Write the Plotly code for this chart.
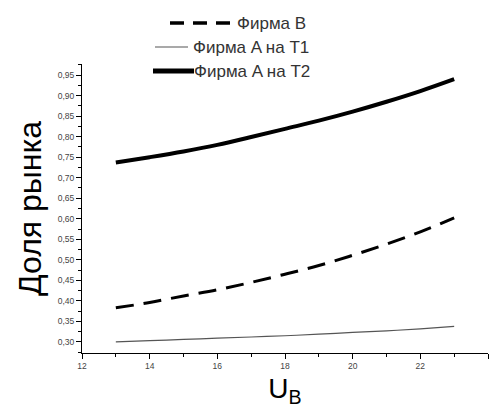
import plotly.graph_objects as go

u_b = [13, 14, 15, 16, 17, 18, 19, 20, 21, 22, 23]
firm_b = [0.383, 0.396, 0.412, 0.427, 0.445, 0.465, 0.486, 0.511, 0.538, 0.568, 0.602]
firm_a_t1 = [0.300, 0.303, 0.306, 0.309, 0.312, 0.315, 0.319, 0.323, 0.327, 0.332, 0.338]
firm_a_t2 = [0.737, 0.750, 0.764, 0.780, 0.799, 0.819, 0.839, 0.861, 0.885, 0.911, 0.940]

names = ["Фирма B", "Фирма A на T1", "Фирма A на T2"]
x_ticks = [12, 14, 16, 18, 20, 22, 24]
y_ticks = [0.30, 0.35, 0.40, 0.45, 0.50, 0.55, 0.60, 0.65, 0.70, 0.75, 0.80, 0.85, 0.90, 0.95]

W, H = 490, 411
L, R, T, B = 82, 2, 64, 58
pw, ph = W - L - R, H - T - B

def px(x):
    return (x - L) / pw

def py(y):
    return (H - B - y) / ph

fig = go.Figure()
fig.add_trace(go.Scatter(x=u_b, y=firm_b, mode="lines", name=names[0],
                         line=dict(color="black", width=3, dash="18px,10px"), line_shape="spline"))
fig.add_trace(go.Scatter(x=u_b, y=firm_a_t1, mode="lines", name=names[1],
                         line=dict(color="#555555", width=1.2), line_shape="spline"))
fig.add_trace(go.Scatter(x=u_b, y=firm_a_t2, mode="lines", name=names[2],
                         line=dict(color="black", width=4), line_shape="spline"))

# manual legend (Origin-style)
legend_rows = [
    dict(y=23, x0=170, x1=230, tx=235, style=dict(color="black", width=3.5, dash="14px,9px")),
    dict(y=47, x0=155, x1=188, tx=191, style=dict(color="#555555", width=1.2)),
    dict(y=71, x0=153, x1=194, tx=192, style=dict(color="black", width=5)),
]
shapes = []
annotations = []
for name, row in zip(names, legend_rows):
    shapes.append(dict(type="line", xref="paper", yref="paper",
                       x0=px(row["x0"]), x1=px(row["x1"]), y0=py(row["y"]), y1=py(row["y"]),
                       line=row["style"]))
    annotations.append(dict(xref="paper", yref="paper", x=px(row["tx"]), y=py(row["y"]),
                            text=name, showarrow=False, xanchor="left", yanchor="middle",
                            font=dict(family="Liberation Sans, Arial", size=17, color="#333333")))

fig.update_layout(
    width=W, height=H,
    margin=dict(l=L, r=R, t=T, b=B),
    paper_bgcolor="white", plot_bgcolor="white",
    showlegend=False,
    separators=", ",
    shapes=shapes,
    annotations=annotations,
    font=dict(family="Liberation Sans, Arial", color="black"),
)
fig.update_xaxes(
    range=[12, 24], tickvals=x_ticks, ticktext=[str(v) for v in x_ticks],
    showline=True, linecolor="black", linewidth=1, showgrid=False, zeroline=False,
    ticks="outside", ticklen=5, tickcolor="black", tickwidth=1,
    minor=dict(dtick=1, ticks="outside", ticklen=3, tickcolor="black"),
    tickfont=dict(size=8.5, color="#444444"),
    title=dict(text="U<sub>B</sub>", font=dict(size=28, color="black"), standoff=8),
)
fig.update_yaxes(
    range=[0.273, 0.977], tickvals=y_ticks, tickformat=".2f",
    showline=True, linecolor="black", linewidth=1, showgrid=False, zeroline=False,
    ticks="outside", ticklen=5, tickcolor="black", tickwidth=1,
    minor=dict(dtick=0.025, ticks="outside", ticklen=3, tickcolor="black"),
    tickfont=dict(size=8.5, color="#444444"),
    title=dict(text="Доля рынка", font=dict(size=32, color="black"), standoff=6),
)

fig.write_html("out.html")
